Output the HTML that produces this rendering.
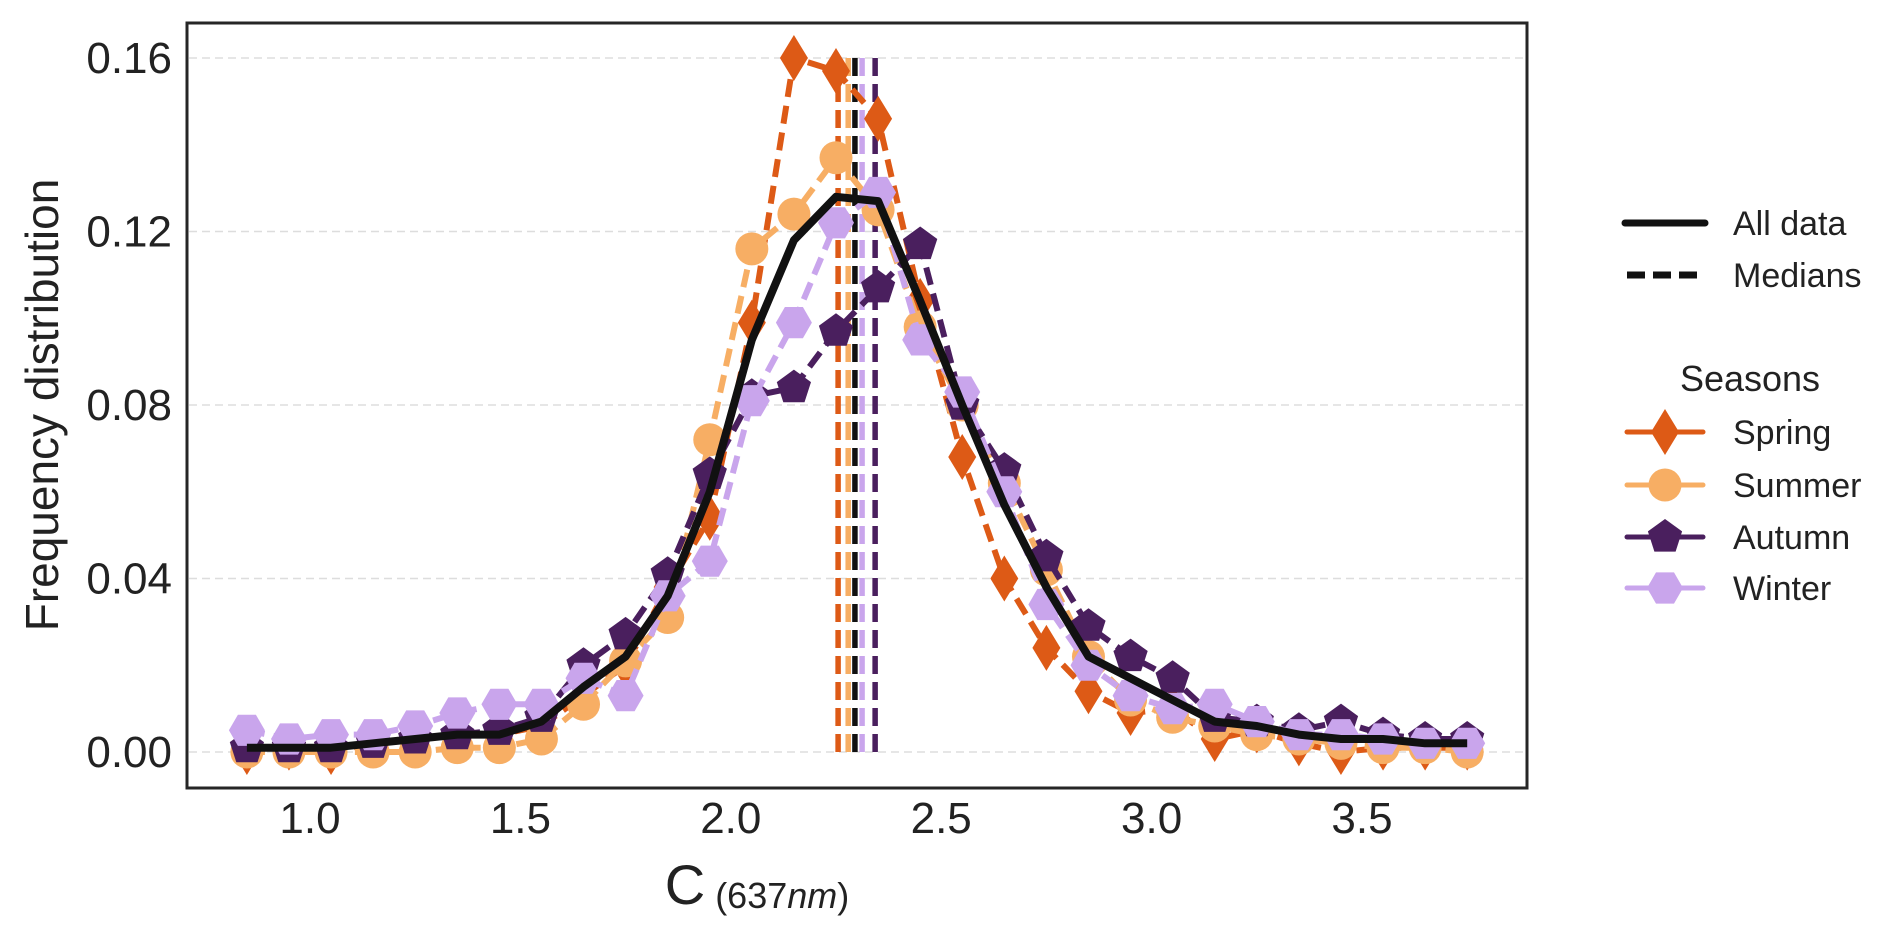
<!DOCTYPE html>
<html><head><meta charset="utf-8"><style>
html,body{margin:0;padding:0;background:#fff;}
svg{display:block;font-family:"Liberation Sans",Arial,sans-serif;}
</style></head><body>
<svg id="chart" width="1892" height="932" viewBox="0 0 1892 932" xmlns="http://www.w3.org/2000/svg">
<rect x="0" y="0" width="1892" height="932" fill="#fff"/>
<g id="grid"></g>
<g id="medians"></g>
<g id="series"></g>
<rect x="187" y="23" width="1340" height="765" fill="none" stroke="#262626" stroke-width="3"/>
<g id="yticks"></g>
<g id="xticks"></g>
<text transform="translate(58,405) rotate(-90)" text-anchor="middle" font-size="46" fill="#222">Frequency distribution</text>
<text x="757" y="904" text-anchor="middle" fill="#222"><tspan font-size="56">C</tspan><tspan font-size="36" dx="10" dy="4">(637</tspan><tspan font-size="36" font-style="italic">nm</tspan><tspan font-size="36">)</tspan></text>
<g id="legend">
  <line x1="1625" y1="223" x2="1705" y2="223" stroke="#111" stroke-width="7" stroke-linecap="round"/>
  <text x="1733" y="235" font-size="34" fill="#222">All data</text>
  <line x1="1627" y1="275" x2="1702" y2="275" stroke="#111" stroke-width="7" stroke-dasharray="18,8"/>
  <text x="1733" y="287" font-size="34" fill="#222">Medians</text>
  <text x="1750" y="391" text-anchor="middle" font-size="36" fill="#222">Seasons</text>
</g>
</svg>
<script>
const xCats=[0.85,0.95,1.05,1.15,1.25,1.35,1.45,1.55,1.65,1.75,1.85,1.95,2.05,2.15,2.25,2.35,2.45,2.55,2.65,2.75,2.85,2.95,3.05,3.15,3.25,3.35,3.45,3.55,3.65,3.75];
const allData=[0.001,0.001,0.001,0.002,0.003,0.004,0.004,0.007,0.015,0.022,0.036,0.060,0.095,0.118,0.128,0.127,0.104,0.080,0.057,0.038,0.022,0.017,0.012,0.007,0.006,0.004,0.003,0.003,0.002,0.002];
const spring=[0.0,0.001,0.0,0.002,0.003,0.004,0.004,0.006,0.013,0.020,0.038,0.054,0.099,0.160,0.157,0.146,0.104,0.068,0.040,0.024,0.014,0.009,0.010,0.003,0.005,0.002,0.0,0.001,0.001,0.001];
const summer=[0.0,0.0,0.0,0.0,0.0,0.001,0.001,0.003,0.011,0.021,0.031,0.072,0.116,0.124,0.137,0.125,0.098,0.080,0.062,0.042,0.022,0.012,0.008,0.006,0.004,0.003,0.002,0.001,0.001,0.0];
const autumn=[0.001,0.001,0.001,0.002,0.003,0.004,0.005,0.008,0.020,0.027,0.041,0.064,0.082,0.084,0.097,0.107,0.117,0.080,0.065,0.045,0.029,0.022,0.017,0.008,0.007,0.005,0.007,0.004,0.003,0.003];
const winter=[0.005,0.003,0.004,0.004,0.006,0.009,0.011,0.011,0.017,0.013,0.036,0.044,0.081,0.099,0.122,0.129,0.095,0.083,0.060,0.034,0.020,0.013,0.010,0.011,0.007,0.004,0.004,0.003,0.002,0.002];
const medianValues=[2.255,2.279,2.295,2.312,2.343];
const medianNames=['spring','summer','all-data','winter','autumn'];
const yTicks=[0.00,0.04,0.08,0.12,0.16];
const yTickLabels=['0.00','0.04','0.08','0.12','0.16'];
const xTicks=[1.0,1.5,2.0,2.5,3.0,3.5];
const xTickLabels=['1.0','1.5','2.0','2.5','3.0','3.5'];

const NS='http://www.w3.org/2000/svg';
function X(v){return 310+(v-1)*420.8;}
function Y(v){return 752-v*4337.5;}
function mk(tag,attrs,parent){const e=document.createElementNS(NS,tag);for(const k in attrs)e.setAttribute(k,attrs[k]);parent.appendChild(e);return e;}

const grid=document.getElementById('grid'),yt=document.getElementById('yticks'),xt=document.getElementById('xticks');
yTicks.forEach((v,i)=>{
  const g=mk('line',{x1:189,x2:1525,y1:Y(v),y2:Y(v),stroke:'#ddd','stroke-width':1.5,'stroke-dasharray':'8,5'},grid);
  
  
  const t=mk('text',{x:172,y:Y(v)+15,'text-anchor':'end','font-size':44,fill:'#222'},yt);
  t.textContent=yTickLabels[i];
  
  
});
xTicks.forEach((v,i)=>{
  const t=mk('text',{x:X(v),y:833,'text-anchor':'middle','font-size':44,fill:'#222'},xt);
  t.textContent=xTickLabels[i];
  
  
});

const medColors=['#dd5a16','#f7ae64','#111111','#c9a5ec','#4a1f5e'];
const mg=document.getElementById('medians');
medianValues.forEach((v,i)=>{
  const l=mk('line',{x1:X(v),x2:X(v),y1:Y(0),y2:Y(0.16),stroke:medColors[i],'stroke-width':5.5,'stroke-dasharray':'18,8'},mg);
  
  
});

function marker(shape,cx,cy,color,parent){
  let e;
  if(shape==='diamond'){
    e=mk('polygon',{points:`${cx},${cy-23} ${cx+14},${cy} ${cx},${cy+23} ${cx-14},${cy}`,fill:color},parent);
  }else if(shape==='circle'){
    e=mk('circle',{cx:cx,cy:cy,r:16.5,fill:color},parent);
  }else if(shape==='pentagon'){
    let p=[];for(let k=0;k<5;k++){const a=-Math.PI/2+k*2*Math.PI/5;p.push((cx+18*Math.cos(a)).toFixed(1)+','+(cy+18*Math.sin(a)).toFixed(1));}
    e=mk('polygon',{points:p.join(' '),fill:color},parent);
  }else{
    let p=[];for(let k=0;k<6;k++){const a=k*Math.PI/3;p.push((cx+18*Math.cos(a)).toFixed(1)+','+(cy+18*Math.sin(a)).toFixed(1));}
    e=mk('polygon',{points:p.join(' '),fill:color},parent);
  }
  return e;
}

const sg=document.getElementById('series');
const seasons=[
  {name:'spring',vals:spring,color:'#dd5a16',shape:'diamond'},
  {name:'summer',vals:summer,color:'#f7ae64',shape:'circle'},
  {name:'autumn',vals:autumn,color:'#4a1f5e',shape:'pentagon'},
  {name:'winter',vals:winter,color:'#c9a5ec',shape:'hexagon'}
];
seasons.forEach(s=>{
  const g=mk('g',{},sg);
  
  
  const pts=s.vals.map((v,i)=>X(xCats[i]).toFixed(1)+','+Y(v).toFixed(1)).join(' ');
  const pl=mk('polyline',{points:pts,fill:'none',stroke:s.color,'stroke-width':6,'stroke-dasharray':'18,9'},g);
  
  
  s.vals.forEach((v,i)=>{
    const m=marker(s.shape,X(xCats[i]),Y(v),s.color,g);
    
    
  });
});
const allPts=allData.map((v,i)=>X(xCats[i]).toFixed(1)+','+Y(v).toFixed(1)).join(' ');
const al=mk('polyline',{points:allPts,fill:'none',stroke:'#111','stroke-width':8,'stroke-linejoin':'round'},sg);



const lg=document.getElementById('legend');
const legY=[432,485,537,588];
seasons.forEach((s,i)=>{
  const g=mk('g',{},lg);
  
  
  mk('line',{x1:1627,x2:1703,y1:legY[i],y2:legY[i],stroke:s.color,'stroke-width':5,'stroke-linecap':'round'},g);
  marker(s.shape,1665,legY[i],s.color,g);
  const t=mk('text',{x:1733,y:legY[i]+12,'font-size':34,fill:'#222'},g);
  t.textContent=s.name.charAt(0).toUpperCase()+s.name.slice(1);
});
</script>
</body></html>
